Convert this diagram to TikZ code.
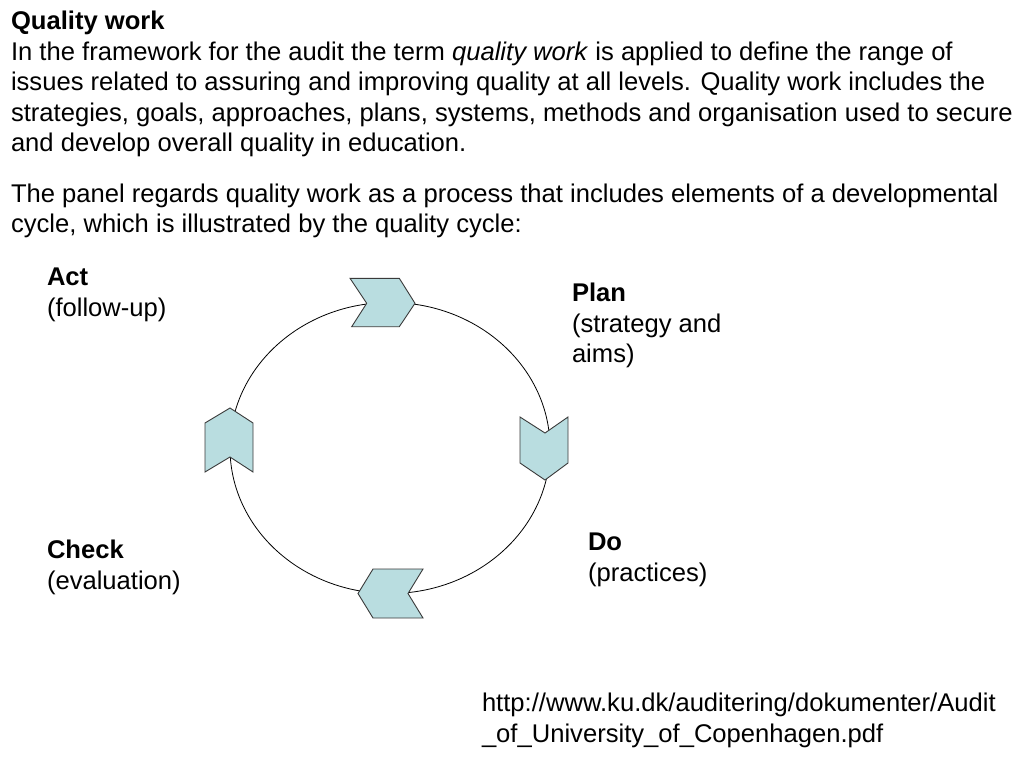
\documentclass[tikz,border=0pt]{standalone}
\usepackage{fontspec}
\setmainfont{Liberation Sans}
\definecolor{chevfill}{HTML}{B9DDE0}
\definecolor{chevline}{HTML}{3A3A3A}
\tikzset{
  txt/.style={anchor=base west, inner sep=0pt, outer sep=0pt, font=\fontsize{25.6}{30.4}\selectfont},
  chev/.style={fill=chevfill, draw=chevline, line width=0.9pt, line join=miter},
  ring/.style={draw=black, line width=0.8pt}
}
\begin{document}
\begin{tikzpicture}[x=1pt,y=-1pt]
\useasboundingbox (0,0) rectangle (1024,768);
% paragraph text
\node[txt] (t0) at (11,30) {\textbf{Quality work}};
\node[txt] (t1) at (11,60.4) {In the framework for the audit the term \textit{quality work} is applied to define the range of};
\node[txt] (t2) at (11,90.8) {issues related to assuring and improving quality at all levels. Quality work includes the};
\node[txt] (t3) at (11,121.2) {strategies, goals, approaches, plans, systems, methods and organisation used to secure};
\node[txt] (t4) at (11,151.6) {and develop overall quality in education.};
\node[txt] (t5) at (11,202) {The panel regards quality work as a process that includes elements of a developmental};
\node[txt] (t6) at (11,232.4) {cycle, which is illustrated by the quality cycle:};
% cycle
\draw[ring] (390,448) ellipse [x radius=160, y radius=145.5];
% top chevron (right)
\draw[chev] (350,278.3) -- (399.3,278.3) -- (415,303.3) -- (399.3,326.7) -- (351.7,326.7) -- (366.7,303.3) -- cycle;
% right chevron (down)
\draw[chev] (520,417) -- (545,433) -- (568,417) -- (568,463) -- (545,480) -- (520,463) -- cycle;
% bottom chevron (left)
\draw[chev] (373,569) -- (423,569) -- (408,593.5) -- (423,618) -- (373,618) -- (358,593.5) -- cycle;
% left chevron (up)
\draw[chev] (230,408) -- (253,423) -- (253,472) -- (230,457) -- (205,472) -- (205,423) -- cycle;
% labels
\node[txt] (act) at (47,285) {\textbf{Act}};
\node[txt] (actb) at (47,316) {(follow-up)};
\node[txt] (plan) at (572,301.5) {\textbf{Plan}};
\node[txt] (planb) at (572,332) {(strategy and};
\node[txt] (planc) at (572,362) {aims)};
\node[txt] (do) at (588,550.7) {\textbf{Do}};
\node[txt] (dob) at (588,581.5) {(practices)};
\node[txt] (chk) at (47,558.3) {\textbf{Check}};
\node[txt] (chkb) at (47,589) {(evaluation)};
\node[txt] (url1) at (482,711.7) {http://www.ku.dk/auditering/dokumenter/Audit};
\node[txt] (url2) at (482,742.5) {\_of\_University\_of\_Copenhagen.pdf};
\end{tikzpicture}
\end{document}
